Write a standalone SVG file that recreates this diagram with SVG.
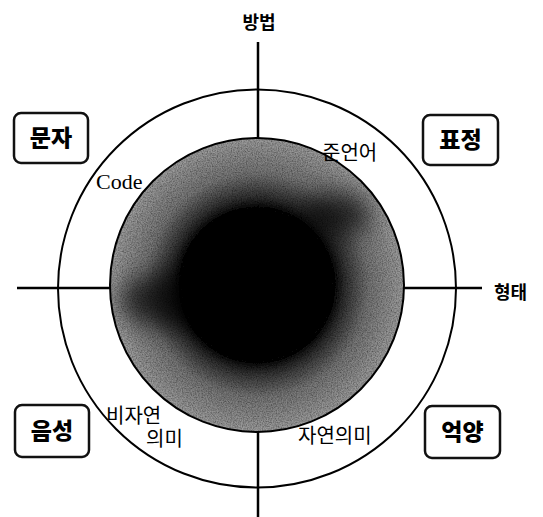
<svg xmlns="http://www.w3.org/2000/svg" width="543" height="517" viewBox="0 0 543 517">
<style>
.ax{stroke:#000;stroke-width:2.5;fill:none}
.ring{stroke:#000;stroke-width:2;fill:none}
.box{fill:#fff;stroke:#111;stroke-width:2.5}
.bl{font-family:"Noto Sans CJK KR","Noto Sans",sans-serif;font-weight:900;font-size:23px;fill:#000;text-anchor:middle}
.lb{font-family:"Noto Sans CJK KR","Noto Sans",sans-serif;font-size:20px;fill:#000}
.ax-lb{font-family:"Noto Sans CJK KR","Noto Sans",sans-serif;font-weight:700;font-size:18px;fill:#000}
.en{font-family:"Liberation Serif",serif;font-size:22px;fill:#000}
</style>
<defs>
<radialGradient id="core" cx="0.5" cy="0.5" r="0.5" fx="0.5" fy="0.5">
<stop offset="0" stop-color="#000"/>
<stop offset="0.5" stop-color="#000"/>
<stop offset="0.6" stop-color="#333"/>
<stop offset="0.76" stop-color="#777"/>
<stop offset="1" stop-color="#a0a0a0"/>
</radialGradient>
<filter id="grain" x="0" y="0" width="1" height="1">
<feTurbulence type="fractalNoise" baseFrequency="0.8" numOctaves="2" seed="3" result="n"/>
<feColorMatrix in="n" type="matrix" values="0 0 0 0 0  0 0 0 0 0  0 0 0 0 0  1.2 0 0 0 -0.35" result="d"/>
<feComposite in="d" in2="SourceGraphic" operator="in" result="m"/>
<feMerge><feMergeNode in="SourceGraphic"/><feMergeNode in="m"/></feMerge>
</filter>
<filter id="soft" x="-0.5" y="-0.5" width="2" height="2"><feGaussianBlur stdDeviation="12"/></filter>
<clipPath id="clipInner"><circle cx="257" cy="285" r="147"/></clipPath>
</defs>
<g id="connectors">
<line class="ax" x1="258" y1="42" x2="258" y2="517"/>
<line class="ax" x1="17" y1="288" x2="482" y2="288"/>
</g>
<g id="outer-circle">
<circle class="ring" cx="257" cy="288.5" r="199"/>
</g>
<g id="inner-circle">
<circle cx="257" cy="285" r="147" fill="url(#core)" filter="url(#grain)"/>
<g clip-path="url(#clipInner)" filter="url(#soft)" opacity="0.7">
<ellipse cx="175" cy="300" rx="55" ry="28" fill="#000"/>
<ellipse cx="335" cy="215" rx="35" ry="22" fill="#000"/>
</g>
<circle class="ring" cx="257" cy="285" r="147"/>
</g>
<g id="node-munja">
<rect class="box" x="14" y="113" width="74" height="50" rx="7"/>
<text class="bl" x="51" y="146">문자</text>
</g>
<g id="node-pyojeong">
<rect class="box" x="423" y="115" width="75" height="50" rx="7"/>
<text class="bl" x="460.5" y="148">표정</text>
</g>
<g id="node-eumseong">
<rect class="box" x="15" y="405" width="74" height="52" rx="7"/>
<text class="bl" x="52" y="439">음성</text>
</g>
<g id="node-eogyang">
<rect class="box" x="425" y="406" width="75" height="52" rx="7"/>
<text class="bl" x="462.5" y="440">억양</text>
</g>
<g id="labels">
<text class="ax-lb" x="259" y="29" text-anchor="middle">방법</text>
<text class="ax-lb" x="494" y="299">형태</text>
<text class="en" x="96" y="189">Code</text>
<text class="lb" x="322" y="160">준언어</text>
<text class="lb" x="106" y="423">비자연</text>
<text class="lb" x="146" y="446">의미</text>
<text class="lb" x="298" y="443">자연의미</text>
</g>
</svg>
